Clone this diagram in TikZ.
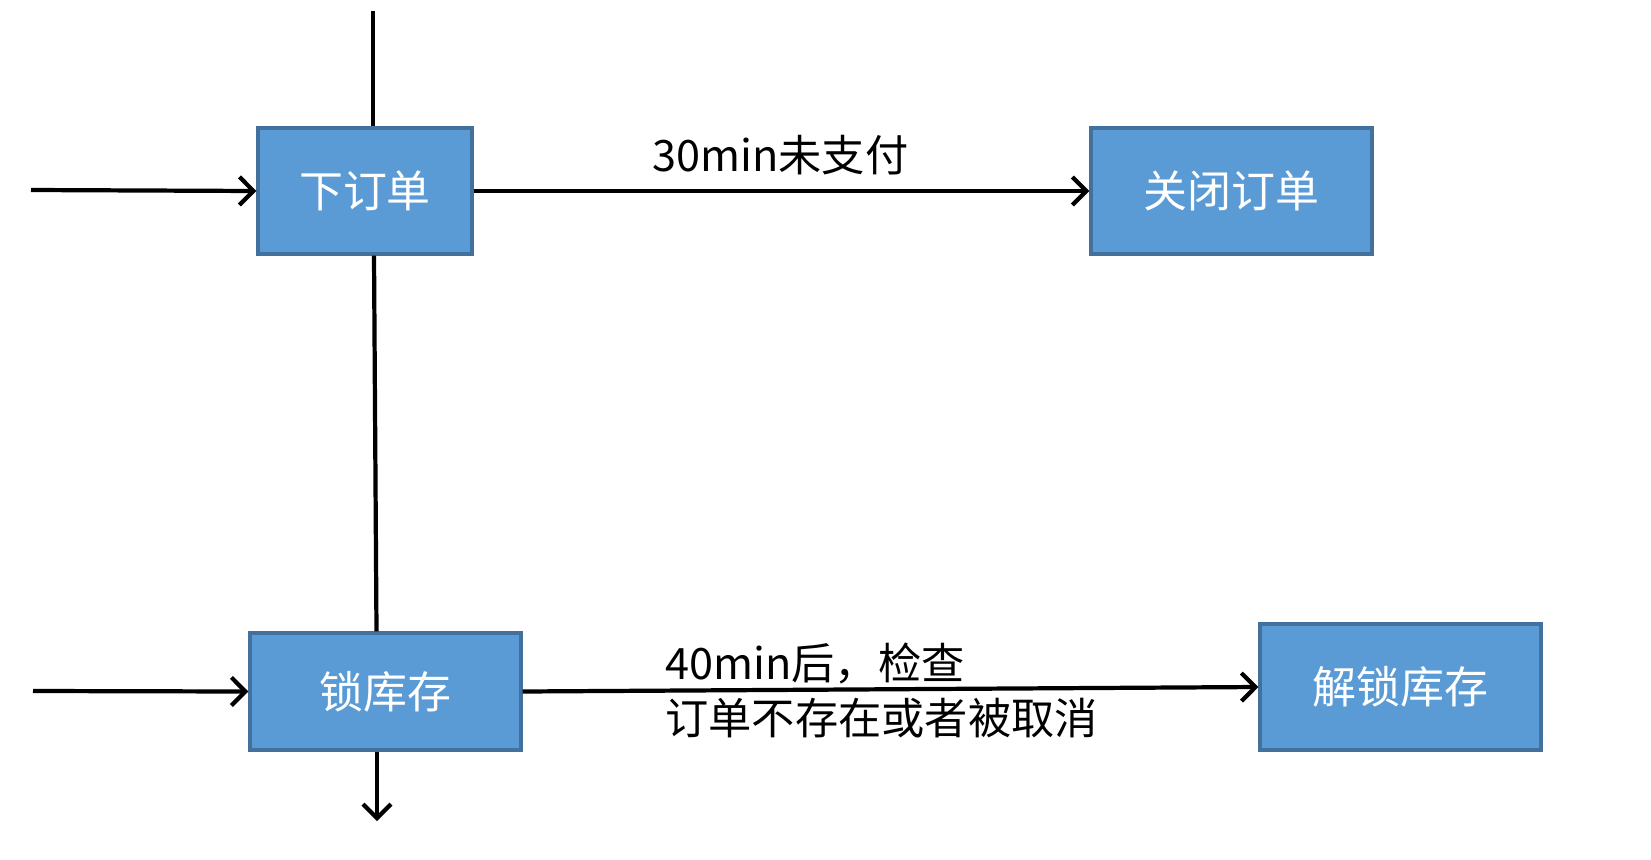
\documentclass[tikz,border=0pt]{standalone}
\usepackage{tikz}
\usetikzlibrary{
  arrows.meta,
  positioning,
  calc
}
\usepackage{xcolor}
\usepackage{fontspec}
\setmainfont{Noto Sans CJK SC}
\definecolor{boxfill}{RGB}{91,155,213}
\definecolor{boxline}{RGB}{65,113,156}

\begin{document}
\begin{tikzpicture}[
  stepbox/.style={draw=boxline, line width=0.9pt, fill=boxfill,
        text=white, font=\fontsize{12.5}{15}\selectfont},
  link/.style={line width=1.2pt},
  flow/.style={line width=1.2pt, -{Straight Barb[length=1.4mm,width=2.8mm]}},
  lbl/.style={font=\fontsize{12.3}{15.5}\selectfont, align=left}
]
  \useasboundingbox (0,0) rectangle (16.51,8.59);
  \node[stepbox, minimum width=2.14cm, minimum height=1.26cm] (order) at (3.65,6.68) {下订单};
  \node[stepbox, minimum width=2.81cm, minimum height=1.26cm] (close) at (12.315,6.68) {关闭订单};
  \node[stepbox, minimum width=2.71cm, minimum height=1.17cm] (lock) at (3.855,1.675) {锁库存};
  \node[stepbox, minimum width=2.81cm, minimum height=1.26cm] (unlock) at (14.005,1.72) {解锁库存};

  \coordinate (top) at (3.73,8.48);
  \coordinate (in1) at (0.31,6.69);
  \coordinate (in2) at (0.33,1.68);
  \coordinate (out) at (3.77,0.38);

  \draw[link] (top) -- (top |- order.north);
  \draw[link] ([xshift=0.9mm]order.south) -- ([xshift=-0.9mm]lock.north);
  \draw[flow] (lock.south -| out) -- (out);
  \draw[flow] (in1) -- (order.west);
  \draw[flow] (in2) -- (lock.west);
  \draw[flow] (order.east) -- (close.west);
  \draw[flow] (lock.east) -- (unlock.west);

  \node[lbl, anchor=west] (wait) at (6.40,7.04) {30min未支付};
  \node[lbl, anchor=west] (check) at (6.53,1.685) {40min后，检查\\订单不存在或者被取消};
\end{tikzpicture}
\end{document}
